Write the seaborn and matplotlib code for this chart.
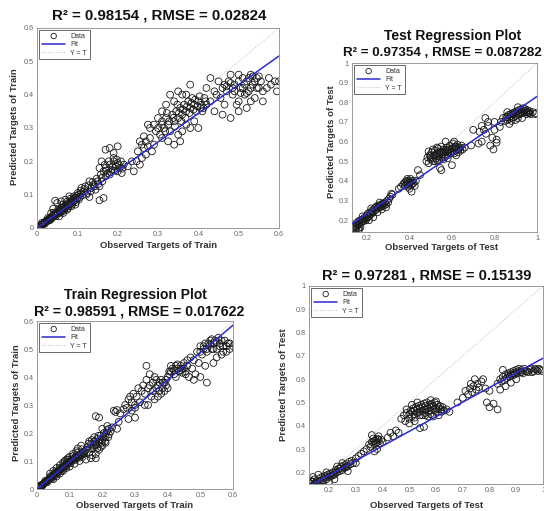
import numpy as np
import matplotlib
matplotlib.use("Agg")
import matplotlib.pyplot as plt
import seaborn as sns
import pandas as pd

sns.set_style("white")
plt.rcParams['font.family'] = ['Liberation Sans', 'DejaVu Sans']

# ---------------- data ----------------
train_a_points = [
    (0.003,0.002),(0.006,0.005),(0.008,0.004),(0.010,0.009),(0.012,0.010),(0.014,0.012),(0.016,0.011),(0.018,0.016),
    (0.020,0.017),(0.022,0.021),(0.024,0.019),(0.026,0.024),(0.028,0.022),(0.030,0.028),(0.032,0.026),(0.034,0.031),
    (0.036,0.029),(0.038,0.036),(0.040,0.033),(0.042,0.040),(0.044,0.037),(0.046,0.045),(0.048,0.041),(0.050,0.048),
    (0.052,0.044),(0.054,0.052),(0.056,0.047),(0.058,0.056),(0.060,0.051),(0.062,0.060),(0.064,0.055),(0.066,0.064),
    (0.068,0.058),(0.070,0.067),(0.072,0.062),(0.074,0.071),(0.076,0.066),(0.078,0.075),(0.080,0.070),(0.082,0.079),
    (0.084,0.073),(0.086,0.083),(0.088,0.077),(0.090,0.087),(0.092,0.081),(0.094,0.091),(0.096,0.085),(0.098,0.096),
    (0.100,0.089),(0.103,0.100),(0.106,0.093),(0.109,0.104),(0.045,0.082),(0.050,0.075),(0.040,0.058),(0.060,0.080),
    (0.070,0.085),(0.080,0.095),(0.035,0.045),(0.065,0.045),(0.075,0.055),(0.085,0.065),(0.095,0.070),(0.055,0.035),
    (0.110,0.120),(0.115,0.110),(0.120,0.125),(0.125,0.105),(0.130,0.140),(0.135,0.120),(0.130,0.093),(0.155,0.083),
    (0.165,0.090),(0.140,0.130),(0.145,0.115),(0.150,0.140),(0.155,0.125),(0.160,0.150),
    (0.165,0.170),(0.170,0.180),(0.175,0.165),(0.180,0.190),(0.185,0.175),(0.190,0.200),(0.195,0.185),(0.200,0.170),
    (0.170,0.155),(0.180,0.160),(0.190,0.210),(0.200,0.195),(0.205,0.180),(0.210,0.165),(0.215,0.190),(0.180,0.240),
    (0.200,0.245),(0.170,0.235),(0.190,0.225),(0.160,0.200),(0.155,0.180),
    (0.225,0.185),(0.235,0.200),(0.247,0.200),(0.240,0.170),(0.255,0.190),(0.250,0.230),(0.260,0.250),(0.265,0.240),
    (0.270,0.260),(0.275,0.245),(0.280,0.270),(0.255,0.260),(0.265,0.275),(0.260,0.210),(0.270,0.220),(0.285,0.230),
    (0.290,0.250),(0.295,0.290),(0.280,0.300),(0.275,0.310),
    (0.300,0.300),(0.305,0.280),(0.310,0.320),(0.315,0.300),(0.320,0.330),(0.325,0.310),(0.330,0.290),(0.335,0.340),
    (0.340,0.320),(0.345,0.350),(0.350,0.330),(0.355,0.360),(0.360,0.340),(0.365,0.370),(0.370,0.350),(0.375,0.380),
    (0.380,0.360),(0.385,0.390),(0.390,0.370),(0.395,0.350),(0.400,0.380),(0.405,0.360),(0.410,0.350),(0.415,0.390),
    (0.420,0.370),(0.340,0.250),(0.355,0.260),(0.350,0.280),(0.360,0.290),(0.370,0.310),(0.380,0.300),(0.400,0.300),
    (0.390,0.320),(0.330,0.400),(0.360,0.400),(0.380,0.430),(0.350,0.410),(0.320,0.370),(0.310,0.350),(0.340,0.380),
    (0.370,0.400),(0.300,0.330),(0.290,0.310),(0.310,0.270),(0.325,0.260),
    (0.430,0.380),(0.440,0.350),(0.445,0.400),(0.450,0.440),(0.455,0.390),(0.460,0.420),(0.465,0.370),(0.470,0.410),
    (0.475,0.440),(0.480,0.330),(0.485,0.400),(0.490,0.430),(0.495,0.370),(0.500,0.380),(0.505,0.420),(0.510,0.450),
    (0.515,0.400),(0.520,0.440),(0.525,0.410),(0.530,0.460),(0.535,0.430),(0.540,0.390),(0.545,0.450),(0.550,0.420),
    (0.555,0.440),(0.560,0.410),(0.570,0.420),(0.575,0.450),(0.580,0.430),(0.590,0.440),(0.595,0.410),(0.600,0.440),
    (0.500,0.350),(0.520,0.360),(0.460,0.340),(0.440,0.410),(0.420,0.420),(0.430,0.450),(0.480,0.460),(0.500,0.460),
    (0.530,0.380),(0.560,0.380),
    (0.012,0.015),(0.019,0.013),(0.027,0.030),(0.033,0.024),(0.041,0.046),(0.047,0.036),(0.053,0.058),(0.059,0.046),
    (0.063,0.070),(0.067,0.052),(0.073,0.078),(0.077,0.060),(0.083,0.088),(0.087,0.070),(0.091,0.095),(0.097,0.078),
    (0.101,0.105),(0.104,0.086),(0.108,0.112),(0.112,0.098),(0.118,0.118),(0.122,0.100),(0.128,0.128),(0.133,0.110),
    (0.138,0.138),(0.143,0.125),(0.148,0.148),(0.152,0.132),(0.158,0.160),(0.162,0.140),
    (0.168,0.190),(0.172,0.172),(0.178,0.200),(0.183,0.168),(0.188,0.185),(0.193,0.172),(0.198,0.205),(0.203,0.190),
    (0.208,0.200),(0.212,0.178),
    (0.310,0.310),(0.318,0.290),(0.322,0.345),(0.328,0.320),(0.338,0.330),(0.342,0.305),(0.348,0.370),(0.352,0.345),
    (0.358,0.320),(0.362,0.355),(0.368,0.330),(0.372,0.365),(0.378,0.345),(0.383,0.375),(0.388,0.355),(0.392,0.385),
    (0.398,0.365),(0.403,0.395),(0.408,0.370),(0.413,0.360),(0.418,0.380),
    (0.470,0.425),(0.480,0.435),(0.490,0.410),(0.500,0.440),(0.510,0.420),(0.515,0.430),(0.520,0.405),(0.525,0.450),
    (0.530,0.420),(0.540,0.440),(0.545,0.420),(0.550,0.455),(0.535,0.455),(0.505,0.405),(0.485,0.420),(0.465,0.430),
]

test_a_points = [
    (0.135,0.160),(0.140,0.165),(0.145,0.170),(0.150,0.160),(0.150,0.185),(0.155,0.175),(0.160,0.195),(0.165,0.180),
    (0.170,0.200),(0.175,0.190),(0.180,0.205),(0.185,0.195),(0.190,0.215),(0.195,0.200),(0.200,0.225),(0.200,0.210),
    (0.205,0.235),(0.210,0.220),(0.215,0.240),(0.220,0.230),(0.225,0.250),(0.230,0.240),(0.235,0.260),(0.240,0.250),
    (0.245,0.270),(0.250,0.260),(0.255,0.275),(0.260,0.265),(0.265,0.280),(0.270,0.270),(0.275,0.285),(0.280,0.275),
    (0.285,0.290),(0.290,0.280),(0.295,0.300),(0.300,0.290),(0.305,0.310),(0.310,0.320),(0.315,0.335),(0.320,0.330),
    (0.210,0.200),(0.230,0.215),(0.250,0.240),(0.270,0.255),(0.290,0.265),(0.180,0.220),(0.220,0.260),(0.260,0.290),
    (0.170,0.165),(0.160,0.160),
    (0.160,0.175),(0.175,0.200),(0.190,0.205),(0.205,0.215),(0.215,0.230),(0.225,0.240),(0.240,0.265),(0.255,0.265),
    (0.265,0.270),(0.280,0.285),(0.165,0.155),(0.150,0.170),(0.145,0.155),
    (0.360,0.370),(0.370,0.380),(0.375,0.390),(0.380,0.375),(0.385,0.400),(0.390,0.385),(0.395,0.370),(0.400,0.390),
    (0.405,0.410),(0.410,0.380),(0.415,0.400),(0.420,0.390),(0.425,0.375),(0.430,0.400),(0.390,0.410),(0.400,0.360),
    (0.410,0.345),(0.440,0.455),(0.450,0.430),(0.350,0.360),
    (0.380,0.390),(0.390,0.395),(0.400,0.380),(0.405,0.395),(0.395,0.400),(0.415,0.385),
    (0.480,0.500),(0.485,0.520),(0.490,0.490),(0.495,0.530),(0.500,0.510),(0.505,0.545),(0.510,0.500),(0.515,0.530),
    (0.520,0.555),(0.525,0.515),(0.530,0.540),(0.535,0.565),(0.540,0.525),(0.545,0.550),(0.550,0.575),(0.555,0.535),
    (0.560,0.560),(0.565,0.520),(0.570,0.545),(0.575,0.570),(0.580,0.530),(0.585,0.555),(0.590,0.580),(0.595,0.540),
    (0.600,0.565),(0.605,0.590),(0.610,0.550),(0.615,0.575),(0.620,0.560),(0.625,0.585),(0.630,0.545),(0.635,0.570),
    (0.640,0.555),(0.645,0.580),(0.650,0.560),(0.660,0.570),(0.520,0.500),(0.540,0.505),(0.560,0.510),(0.580,0.515),
    (0.500,0.530),(0.530,0.570),(0.570,0.600),(0.610,0.600),(0.544,0.466),(0.600,0.480),(0.550,0.455),(0.620,0.530),
    (0.490,0.550),(0.510,0.560),
    (0.500,0.520),(0.510,0.515),(0.520,0.530),(0.530,0.525),(0.540,0.540),(0.550,0.545),(0.560,0.550),(0.570,0.555),
    (0.580,0.560),(0.590,0.560),(0.600,0.550),(0.610,0.565),(0.620,0.575),(0.630,0.560),(0.550,0.520),(0.570,0.530),
    (0.590,0.545),(0.610,0.540),(0.530,0.505),(0.640,0.570),
    (0.690,0.580),(0.700,0.660),(0.725,0.590),(0.740,0.600),(0.750,0.660),(0.757,0.720),(0.770,0.680),(0.780,0.580),
    (0.790,0.620),(0.795,0.560),(0.810,0.610),(0.825,0.675),(0.760,0.640),(0.730,0.650),(0.800,0.660),(0.770,0.700),
    (0.740,0.680),(0.810,0.595),(0.800,0.700),
    (0.830,0.700),(0.840,0.720),(0.850,0.705),(0.855,0.725),(0.860,0.710),(0.865,0.735),(0.870,0.715),(0.875,0.740),
    (0.880,0.720),(0.885,0.745),(0.890,0.725),(0.895,0.750),(0.900,0.730),(0.905,0.755),(0.910,0.735),(0.915,0.760),
    (0.920,0.740),(0.925,0.765),(0.930,0.745),(0.935,0.770),(0.940,0.750),(0.945,0.765),(0.950,0.740),(0.955,0.760),
    (0.960,0.745),(0.965,0.755),(0.970,0.740),(0.980,0.750),(0.990,0.740),(0.995,0.745),(0.870,0.690),(0.900,0.710),
    (0.930,0.720),(0.860,0.750),(0.910,0.775),
    (0.860,0.725),(0.875,0.730),(0.890,0.740),(0.900,0.745),(0.915,0.745),(0.925,0.750),(0.940,0.755),(0.955,0.750),
    (0.965,0.745),(0.880,0.705),(0.950,0.755),(0.910,0.720),
]

train_b_points = [
    (0.002,0.003),(0.005,0.004),(0.008,0.007),(0.011,0.010),(0.013,0.012),(0.016,0.014),(0.018,0.017),(0.021,0.019),
    (0.023,0.022),(0.026,0.024),(0.028,0.027),(0.031,0.029),(0.033,0.031),(0.036,0.034),(0.038,0.037),(0.041,0.039),
    (0.043,0.042),(0.046,0.043),(0.048,0.047),(0.051,0.049),(0.053,0.052),(0.056,0.053),(0.058,0.057),(0.061,0.058),
    (0.063,0.062),(0.066,0.063),(0.068,0.067),(0.071,0.068),(0.073,0.072),(0.076,0.073),(0.078,0.077),(0.081,0.078),
    (0.083,0.082),(0.086,0.083),(0.088,0.087),(0.091,0.088),(0.093,0.092),(0.096,0.093),(0.098,0.097),(0.101,0.098),
    (0.104,0.102),(0.107,0.101),(0.110,0.106),(0.113,0.108),(0.116,0.112),(0.119,0.110),(0.122,0.117),(0.125,0.114),
    (0.128,0.121),(0.131,0.118),(0.134,0.126),(0.137,0.122),(0.140,0.130),(0.143,0.125),(0.146,0.134),
    (0.040,0.055),(0.050,0.065),(0.060,0.075),(0.070,0.085),(0.080,0.095),(0.090,0.105),(0.100,0.115),(0.110,0.125),
    (0.120,0.135),(0.050,0.035),(0.060,0.045),(0.070,0.055),(0.080,0.065),(0.090,0.075),(0.100,0.080),(0.115,0.090),
    (0.130,0.100),(0.085,0.100),(0.095,0.110),(0.125,0.145),(0.135,0.155),(0.140,0.115),(0.150,0.105),
    (0.010,0.013),(0.017,0.012),(0.025,0.029),(0.031,0.024),(0.040,0.045),(0.046,0.038),(0.055,0.060),(0.061,0.052),
    (0.069,0.075),(0.075,0.065),(0.083,0.090),(0.089,0.080),(0.097,0.104),(0.103,0.092),(0.111,0.118),(0.117,0.104),
    (0.124,0.130),(0.130,0.112),(0.138,0.142),(0.144,0.128),
    (0.150,0.140),(0.155,0.150),(0.160,0.130),(0.165,0.160),(0.170,0.145),(0.175,0.170),(0.180,0.155),(0.185,0.180),
    (0.190,0.165),(0.195,0.190),(0.200,0.175),(0.205,0.200),(0.210,0.185),(0.215,0.210),(0.220,0.195),(0.200,0.155),
    (0.190,0.140),(0.210,0.165),(0.220,0.215),(0.180,0.125),(0.170,0.120),(0.160,0.170),(0.175,0.185),(0.200,0.215),
    (0.215,0.225),(0.180,0.110),(0.225,0.205),(0.165,0.110),
    (0.158,0.162),(0.163,0.145),(0.168,0.175),(0.173,0.155),(0.178,0.170),(0.183,0.160),(0.188,0.190),(0.193,0.175),
    (0.198,0.165),(0.203,0.185),(0.208,0.170),(0.212,0.200),(0.218,0.185),(0.185,0.145),(0.195,0.150),
    (0.180,0.260),(0.190,0.255),(0.235,0.280),(0.240,0.275),(0.245,0.282),(0.250,0.240),(0.280,0.250),(0.300,0.255),
    (0.230,0.220),(0.245,0.215),(0.255,0.270),(0.265,0.285),(0.270,0.300),(0.275,0.290),
    (0.280,0.320),(0.285,0.330),(0.290,0.310),(0.295,0.340),(0.300,0.300),(0.290,0.280),
    (0.305,0.330),(0.310,0.360),(0.315,0.310),(0.320,0.350),(0.325,0.370),(0.330,0.340),(0.335,0.390),(0.340,0.360),
    (0.345,0.410),(0.350,0.330),(0.335,0.440),(0.355,0.380),(0.360,0.320),(0.360,0.400),(0.365,0.390),(0.370,0.370),
    (0.375,0.380),(0.380,0.390),(0.385,0.360),(0.390,0.380),(0.390,0.350),(0.395,0.370),(0.400,0.400),(0.405,0.420),
    (0.410,0.420),(0.415,0.430),(0.420,0.425),(0.425,0.440),(0.430,0.430),(0.435,0.420),(0.440,0.440),(0.330,0.300),
    (0.340,0.300),(0.370,0.330),(0.380,0.340),(0.400,0.360),(0.300,0.290),
    (0.345,0.370),(0.355,0.350),(0.365,0.360),(0.375,0.350),(0.385,0.380),(0.395,0.390),(0.405,0.410),(0.410,0.440),
    (0.420,0.410),(0.430,0.445),(0.440,0.425),(0.450,0.430),(0.455,0.410),(0.445,0.415),(0.425,0.400),
    (0.445,0.430),(0.450,0.450),(0.455,0.420),(0.460,0.440),(0.465,0.400),(0.470,0.470),(0.475,0.430),(0.480,0.460),
    (0.485,0.410),(0.490,0.490),(0.495,0.450),(0.500,0.510),(0.505,0.480),(0.510,0.500),(0.515,0.440),(0.520,0.490),
    (0.525,0.520),(0.530,0.530),(0.535,0.500),(0.540,0.520),(0.545,0.530),(0.550,0.500),(0.555,0.540),(0.560,0.510),
    (0.565,0.480),(0.570,0.510),(0.575,0.530),(0.580,0.490),(0.585,0.520),(0.590,0.500),(0.600,0.510),(0.500,0.400),
    (0.480,0.390),(0.460,0.460),(0.520,0.380),(0.540,0.450),
    (0.500,0.490),(0.510,0.510),(0.520,0.500),(0.530,0.515),(0.540,0.500),(0.550,0.525),(0.560,0.520),(0.570,0.490),
    (0.580,0.510),(0.590,0.520),(0.550,0.470),(0.535,0.535),(0.515,0.520),(0.565,0.530),
]

test_b_points = [
    (0.130,0.150),(0.135,0.160),(0.140,0.145),(0.145,0.170),(0.150,0.155),(0.155,0.165),(0.160,0.150),(0.165,0.175),
    (0.170,0.160),(0.175,0.180),(0.180,0.165),(0.185,0.185),(0.190,0.170),(0.195,0.190),(0.200,0.180),(0.205,0.195),
    (0.210,0.185),(0.215,0.200),(0.220,0.190),(0.225,0.210),(0.230,0.200),(0.235,0.215),(0.240,0.205),(0.245,0.225),
    (0.250,0.210),(0.255,0.230),(0.260,0.220),(0.265,0.235),(0.270,0.225),(0.275,0.245),(0.280,0.235),(0.285,0.250),
    (0.290,0.240),(0.300,0.260),(0.310,0.270),(0.320,0.280),(0.330,0.290),(0.140,0.180),(0.150,0.140),(0.170,0.140),
    (0.200,0.160),(0.220,0.170),(0.250,0.240),(0.270,0.205),(0.300,0.240),(0.160,0.190),(0.190,0.200),(0.230,0.225),
    (0.140,0.160),(0.155,0.150),(0.165,0.160),(0.180,0.175),(0.190,0.180),(0.205,0.185),(0.215,0.190),(0.225,0.200),
    (0.240,0.215),(0.255,0.220),(0.265,0.225),(0.130,0.165),(0.145,0.150),
    (0.340,0.300),(0.350,0.320),(0.355,0.310),(0.360,0.330),(0.365,0.345),(0.370,0.320),(0.375,0.340),(0.380,0.330),
    (0.385,0.355),(0.390,0.325),(0.395,0.340),(0.370,0.290),(0.380,0.300),(0.360,0.360),(0.400,0.330),(0.430,0.370),
    (0.440,0.355),(0.450,0.380),(0.460,0.370),(0.420,0.350),
    (0.365,0.330),(0.375,0.325),(0.385,0.340),(0.370,0.335),(0.380,0.345),
    (0.470,0.430),(0.480,0.445),(0.485,0.420),(0.490,0.455),(0.500,0.430),(0.505,0.465),(0.510,0.440),(0.515,0.475),
    (0.520,0.450),(0.525,0.480),(0.530,0.455),(0.535,0.485),(0.540,0.460),(0.545,0.490),(0.550,0.465),(0.555,0.495),
    (0.560,0.470),(0.565,0.500),(0.570,0.475),(0.575,0.490),(0.580,0.465),(0.585,0.495),(0.590,0.470),(0.595,0.500),
    (0.600,0.475),(0.605,0.490),(0.610,0.470),(0.615,0.485),(0.620,0.460),(0.625,0.480),(0.630,0.465),(0.640,0.470),
    (0.650,0.460),(0.500,0.410),(0.520,0.420),(0.540,0.390),(0.555,0.395),(0.570,0.440),(0.590,0.440),(0.610,0.445),
    (0.490,0.470),(0.510,0.490),(0.530,0.500),(0.560,0.445),(0.600,0.505),(0.580,0.510),
    (0.500,0.450),(0.510,0.460),(0.520,0.465),(0.530,0.470),(0.540,0.475),(0.550,0.480),(0.560,0.485),(0.570,0.460),
    (0.580,0.480),(0.590,0.485),(0.600,0.460),(0.610,0.480),(0.520,0.435),(0.540,0.445),(0.560,0.455),(0.580,0.450),
    (0.620,0.470),(0.550,0.445),
    (0.680,0.500),(0.700,0.520),(0.710,0.550),(0.720,0.535),(0.727,0.560),(0.735,0.545),(0.740,0.570),(0.750,0.555),
    (0.755,0.580),(0.760,0.565),(0.770,0.590),(0.776,0.600),(0.745,0.600),(0.730,0.580),(0.790,0.500),(0.800,0.480),
    (0.815,0.495),(0.830,0.470),(0.800,0.550),(0.785,0.560),
    (0.830,0.580),(0.840,0.600),(0.845,0.590),(0.850,0.610),(0.855,0.595),(0.860,0.620),(0.865,0.605),(0.870,0.625),
    (0.875,0.610),(0.880,0.630),(0.885,0.615),(0.890,0.635),(0.895,0.620),(0.900,0.640),(0.905,0.625),(0.910,0.645),
    (0.915,0.630),(0.920,0.640),(0.925,0.625),(0.930,0.645),(0.940,0.635),(0.950,0.640),(0.960,0.630),(0.970,0.645),
    (0.980,0.635),(0.990,0.640),(0.860,0.570),(0.880,0.585),(0.900,0.600),(0.850,0.640),(0.840,0.555),
    (0.870,0.615),(0.880,0.620),(0.890,0.625),(0.900,0.630),(0.910,0.635),(0.920,0.630),(0.935,0.635),(0.945,0.630),
    (0.955,0.645),(0.965,0.635),(0.975,0.640),(0.985,0.645),(0.995,0.635),
]

# fit lines (slope, intercept)
fit_train_a = (0.86, 0.0)
fit_test_a = (0.745, 0.085)
fit_train_b = (0.975, 0.0)
fit_test_b = (0.628, 0.062)

title_train_a = "R² = 0.98154 , RMSE = 0.02824"
title_test_a = ["Test Regression Plot", "R² = 0.97354 , RMSE = 0.087282"]
title_train_b = ["Train Regression Plot", "R² = 0.98591 , RMSE = 0.017622"]
title_test_b = "R² = 0.97281 , RMSE = 0.15139"

xlabel_train = "Observed Targets of Train"
ylabel_train = "Predicted Targets of Train"
xlabel_test = "Observed Targets of Test"
ylabel_test = "Predicted Targets of Test"

train_ticks = [0, 0.1, 0.2, 0.3, 0.4, 0.5, 0.6]
train_ticklabels = ["0", "0.1", "0.2", "0.3", "0.4", "0.5", "0.6"]
test_a_xticks = [0.2, 0.4, 0.6, 0.8, 1.0]
test_a_xticklabels = ["0.2", "0.4", "0.6", "0.8", "1"]
test_yticks = [0.2, 0.3, 0.4, 0.5, 0.6, 0.7, 0.8, 0.9, 1.0]
test_yticklabels = ["0.2", "0.3", "0.4", "0.5", "0.6", "0.7", "0.8", "0.9", "1"]
test_b_xticks = [0.2, 0.3, 0.4, 0.5, 0.6, 0.7, 0.8, 0.9, 1.0]
test_b_xticklabels = ["0.2", "0.3", "0.4", "0.5", "0.6", "0.7", "0.8", "0.9", "1"]

legend_labels = ["Data", "Fit", "Y = T"]

# ---------------- figure ----------------
W, H = 544, 511
fig = plt.figure(figsize=(W / 100, H / 100), dpi=100)
fig.patch.set_facecolor("white")


def rect(l, t, r, b):
    return [l / W, 1 - b / H, (r - l) / W, (b - t) / H]


def ftext(x, y, s, **kw):
    fig.text(x / W, 1 - y / H, s, ha="center", va="center", **kw)


FIT_COLOR = "#2b2bd0"
YT_COLOR = "#c4c4b8"
PT_COLOR = "#1a1a1a"


def panel(r, pts, fit, xlim, ylim, xt, xtl, yt, ytl):
    ax = fig.add_axes(r)
    df = pd.DataFrame(pts, columns=["obs", "pred"])
    sns.scatterplot(data=df, x="obs", y="pred", ax=ax, marker="o", s=24,
                    facecolor="none", edgecolor=PT_COLOR, linewidth=0.6,
                    label=legend_labels[0], zorder=2)
    ax.axline((0, fit[1]), slope=fit[0], color=FIT_COLOR, lw=1.1,
              label=legend_labels[1], zorder=3)
    ax.axline((0, 0), slope=1, color=YT_COLOR, lw=0.7, ls=(0, (1.2, 1.6)),
              label=legend_labels[2], zorder=1)
    ax.set_xlim(*xlim)
    ax.set_ylim(*ylim)
    ax.set_xticks(xt)
    ax.set_xticklabels(xtl)
    ax.set_yticks(yt)
    ax.set_yticklabels(ytl)
    ax.set_xlabel("")
    ax.set_ylabel("")
    ax.tick_params(direction="in", length=2, width=0.5, labelsize=5.2,
                   labelcolor="#666666", color="#808080", pad=2.2)
    for sp in ax.spines.values():
        sp.set_color("#8a8a8a")
        sp.set_linewidth(0.6)
        sp.set_visible(True)
    leg = ax.legend(loc="upper left", fontsize=5.0, handlelength=3.4,
                    borderaxespad=0.35, borderpad=0.35, labelspacing=0.2,
                    handletextpad=0.7, fancybox=False, framealpha=1,
                    edgecolor="#303030", markerscale=0.8)
    leg.get_frame().set_linewidth(0.5)
    for t in leg.get_texts():
        t.set_color("#303030")
    return ax


# Panel 1: top-left
panel(rect(37, 28, 279, 228), train_a_points, fit_train_a, (0, 0.6), (0, 0.6),
      train_ticks, train_ticklabels, train_ticks, train_ticklabels)
# Panel 2: top-right
panel(rect(352, 63, 537, 232), test_a_points, fit_test_a, (0.13, 1.0), (0.14, 1.0),
      test_a_xticks, test_a_xticklabels, test_yticks, test_yticklabels)
# Panel 3: bottom-left
panel(rect(37, 321, 233, 489), train_b_points, fit_train_b, (0, 0.6), (0, 0.6),
      train_ticks, train_ticklabels, train_ticks, train_ticklabels)
# Panel 4: bottom-right
panel(rect(309, 286, 543, 484), test_b_points, fit_test_b, (0.125, 1.0), (0.15, 1.0),
      test_b_xticks, test_b_xticklabels, test_yticks, test_yticklabels)

bold = dict(fontweight="bold", color="#111111")

# titles
ftext(159, 16, title_train_a, fontsize=10.8, **bold)
ftext(453, 36, title_test_a[0], fontsize=10, **bold)
ftext(442, 53, title_test_a[1], fontsize=9.6, **bold)
ftext(135, 295, title_train_b[0], fontsize=10, **bold)
ftext(139, 312, title_train_b[1], fontsize=10.2, **bold)
ftext(427, 276, title_test_b, fontsize=10.5, **bold)

# axis labels
lab = dict(fontweight="bold", color="#333333", fontsize=6.8)
ftext(159, 245, xlabel_train, **lab)
ftext(15, 127, ylabel_train, rotation=90, **lab)
ftext(442, 248, xlabel_test, **lab)
ftext(332, 142, ylabel_test, rotation=90, **lab)
ftext(135, 505, xlabel_train, **lab)
ftext(17, 403, ylabel_train, rotation=90, **lab)
ftext(427, 505, xlabel_test, **lab)
ftext(284, 385, ylabel_test, rotation=90, **lab)

fig.savefig("out.png", dpi=100, facecolor="white")
